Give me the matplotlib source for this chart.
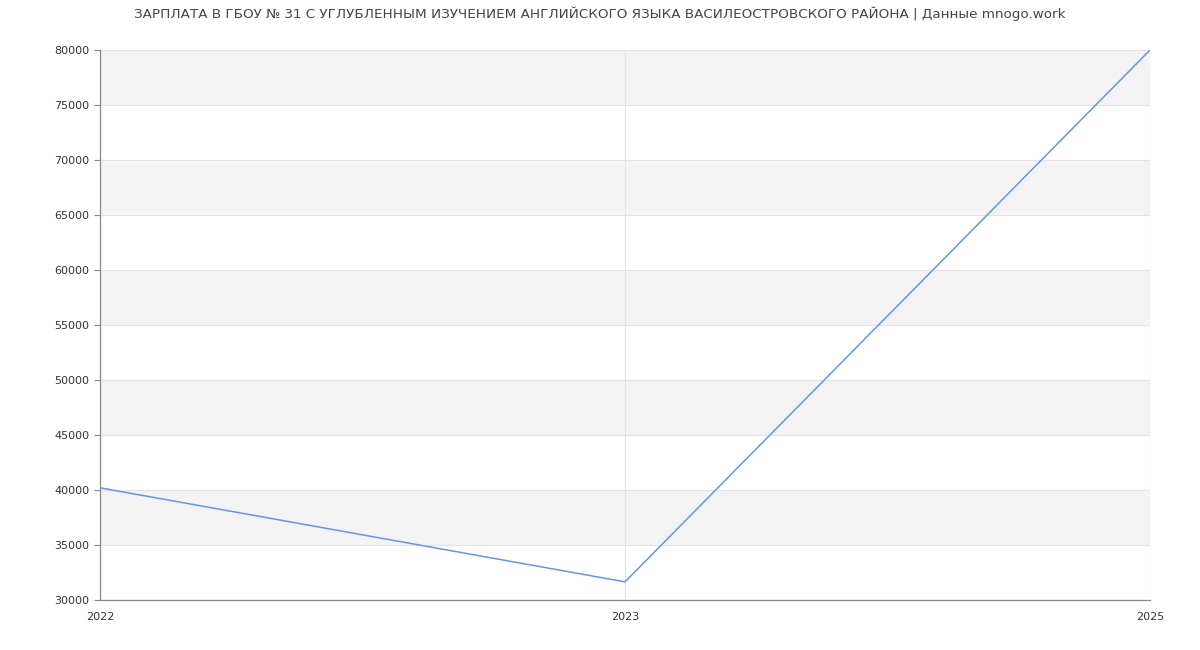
import matplotlib
matplotlib.use("Agg")
import matplotlib.pyplot as plt

years = ["2022", "2023", "2025"]
salary = [40200, 31650, 80000]
yticks = list(range(30000, 80001, 5000))
title = "ЗАРПЛАТА В ГБОУ № 31 С УГЛУБЛЕННЫМ ИЗУЧЕНИЕМ АНГЛИЙСКОГО ЯЗЫКА ВАСИЛЕОСТРОВСКОГО РАЙОНА | Данные mnogo.work"

plt.rcParams['font.family'] = ['DejaVu Sans']
fig = plt.figure(figsize=(12, 6.5), dpi=100)
ax = fig.add_axes([100/1200, 50/650, 1050/1200, 550/650])

x = list(range(len(years)))
ax.set_xlim(0, len(years) - 1)
ax.set_ylim(30000, 80000)

# alternating bands
for i, lo in enumerate(yticks[:-1]):
    if (lo // 5000) % 2 == 1:
        ax.axhspan(lo, lo + 5000, color="#f3f3f3", zorder=0, lw=0)

ax.set_yticks(yticks)
ax.set_xticks(x)
ax.set_xticklabels(years)
ax.grid(True, color="#e3e3e3", lw=0.8, zorder=1)
ax.set_axisbelow(True)

ax.plot(x, salary, color="#6495ed", lw=1.1, zorder=3)

for s in ["top", "right"]:
    ax.spines[s].set_visible(False)
for s in ["left", "bottom"]:
    ax.spines[s].set_color("#888888")
    ax.spines[s].set_linewidth(0.9)

ax.tick_params(axis="y", labelsize=8, colors="#333333", length=4, color="#888888")
ax.tick_params(axis="x", labelsize=8, colors="#333333", length=0, pad=9)

fig.text(0.5, 1 - 14/650, title, ha="center", va="center", fontsize=9.7, color="#444444")

fig.savefig("out.png", dpi=100)
